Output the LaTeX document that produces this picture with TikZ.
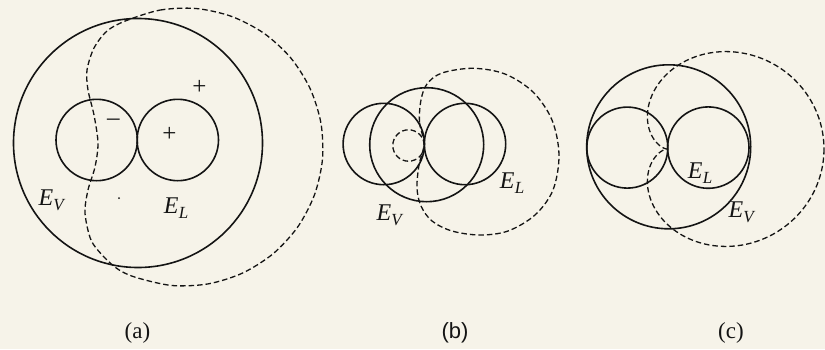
\documentclass[tikz,border=0pt]{standalone}
\usepackage{fontspec}
\setmainfont{Liberation Serif}
\setsansfont{Liberation Sans}
\definecolor{ink}{RGB}{20,20,20}
\definecolor{paper}{RGB}{246,243,233}
\newcommand{\Elab}[1]{\textit{E}\kern0.3pt\raisebox{-0.45ex}{\fontsize{17}{17}\selectfont\textit{#1}}}
\begin{document}
\begin{tikzpicture}[x=1pt,y=-1pt,
  solidc/.style={draw=ink,line width=1.6pt},
  dashc/.style={draw=ink,line width=1.3pt,dash pattern=on 5.5pt off 3pt},
  elab/.style={inner sep=0pt,text=ink,font=\fontsize{24}{28}\selectfont},
  caplab/.style={inner sep=0pt,text=ink,font=\fontsize{23}{27}\selectfont},
  sign/.style={inner sep=0pt,text=ink,font=\fontsize{25}{28}\selectfont}]
\fill[paper] (0,0) rectangle (825,349);
\useasboundingbox (0,0) rectangle (825,349);

% ---------------- (a) ----------------
\draw[solidc] (138,143) circle[radius=124.5pt];
\draw[solidc] (96.7,140) circle[radius=40.7pt];
\draw[solidc] (177.8,140) circle[radius=40.7pt];
\draw[dashc] plot[smooth cycle,tension=0.5] coordinates {
  (125.3,21.0) (159.9,10.1) (196.1,8.5) (231.5,16.4) (263.7,33.1)
  (290.5,57.6) (310.0,88.3) (320.9,122.9) (322.5,159.1) (314.6,194.5)
  (297.9,226.7) (273.4,253.5) (242.7,273.0) (208.1,283.9) (171.9,285.5)
  (136.5,277.6) (118.7,269.7)
  (104,257) (91,240) (85,213) (88,190) (95,167) (98,143) (94,115)
  (88,90) (87,70) (94,48) (107,31)};
\node[sign] (aplus1) at (199.3,87.3) {+};
\node[sign] (aplus2) at (169.3,134.3) {+};
\node[sign] (aminus) at (113.3,122.7) {\textendash};
\fill[ink] (119,198) circle[radius=1pt];
\node[elab] (aEV) at (52,200) {\Elab{V}};
\node[elab] (aEL) at (176,208) {\Elab{L}};
\node[caplab] (acap) at (137.5,333) {(a)};

% ---------------- (b) ----------------
\draw[solidc] (383.8,144) circle[radius=40.7pt];
\draw[solidc] (465,144) circle[radius=40.7pt];
\draw[solidc] (426.7,144.7) circle[radius=57pt];
\draw[dashc] (408.5,145.5) circle[radius=15.7pt];
\draw[dashc] plot[smooth cycle,tension=0.55] coordinates {
  (424,144) (419.5,122) (421,100) (427,84) (442,73) (473,68.3)
  (505,74) (533,92) (552,120) (559,155) (553,190) (535,215)
  (508,231) (480,235) (452,231) (432,221) (421,206) (417,188) (419,165)};
\node[elab] (bEV) at (390,215) {\Elab{V}};
\node[elab] (bEL) at (512,183) {\Elab{L}};
\node[caplab,font=\sffamily\fontsize{22}{26}\selectfont] (bcap) at (455,332.5) {(b)};

% ---------------- (c) ----------------
\draw[solidc] (668.7,146.8) circle[radius=82pt];
\draw[solidc] (627.3,147.6) circle[radius=40.5pt];
\draw[solidc] (708.3,147.6) circle[radius=40.7pt];
\draw[dashc] plot[domain=0:360,samples=145,smooth]
  ({667+78.5*(1+cos(\x))*cos(\x)},{149+75*(1+cos(\x))*sin(\x)});
\node[elab] (cEL) at (700,173) {\Elab{L}};
\node[elab] (cEV) at (742,212) {\Elab{V}};
\node[caplab] (ccap) at (731,333) {(c)};
\end{tikzpicture}
\end{document}
